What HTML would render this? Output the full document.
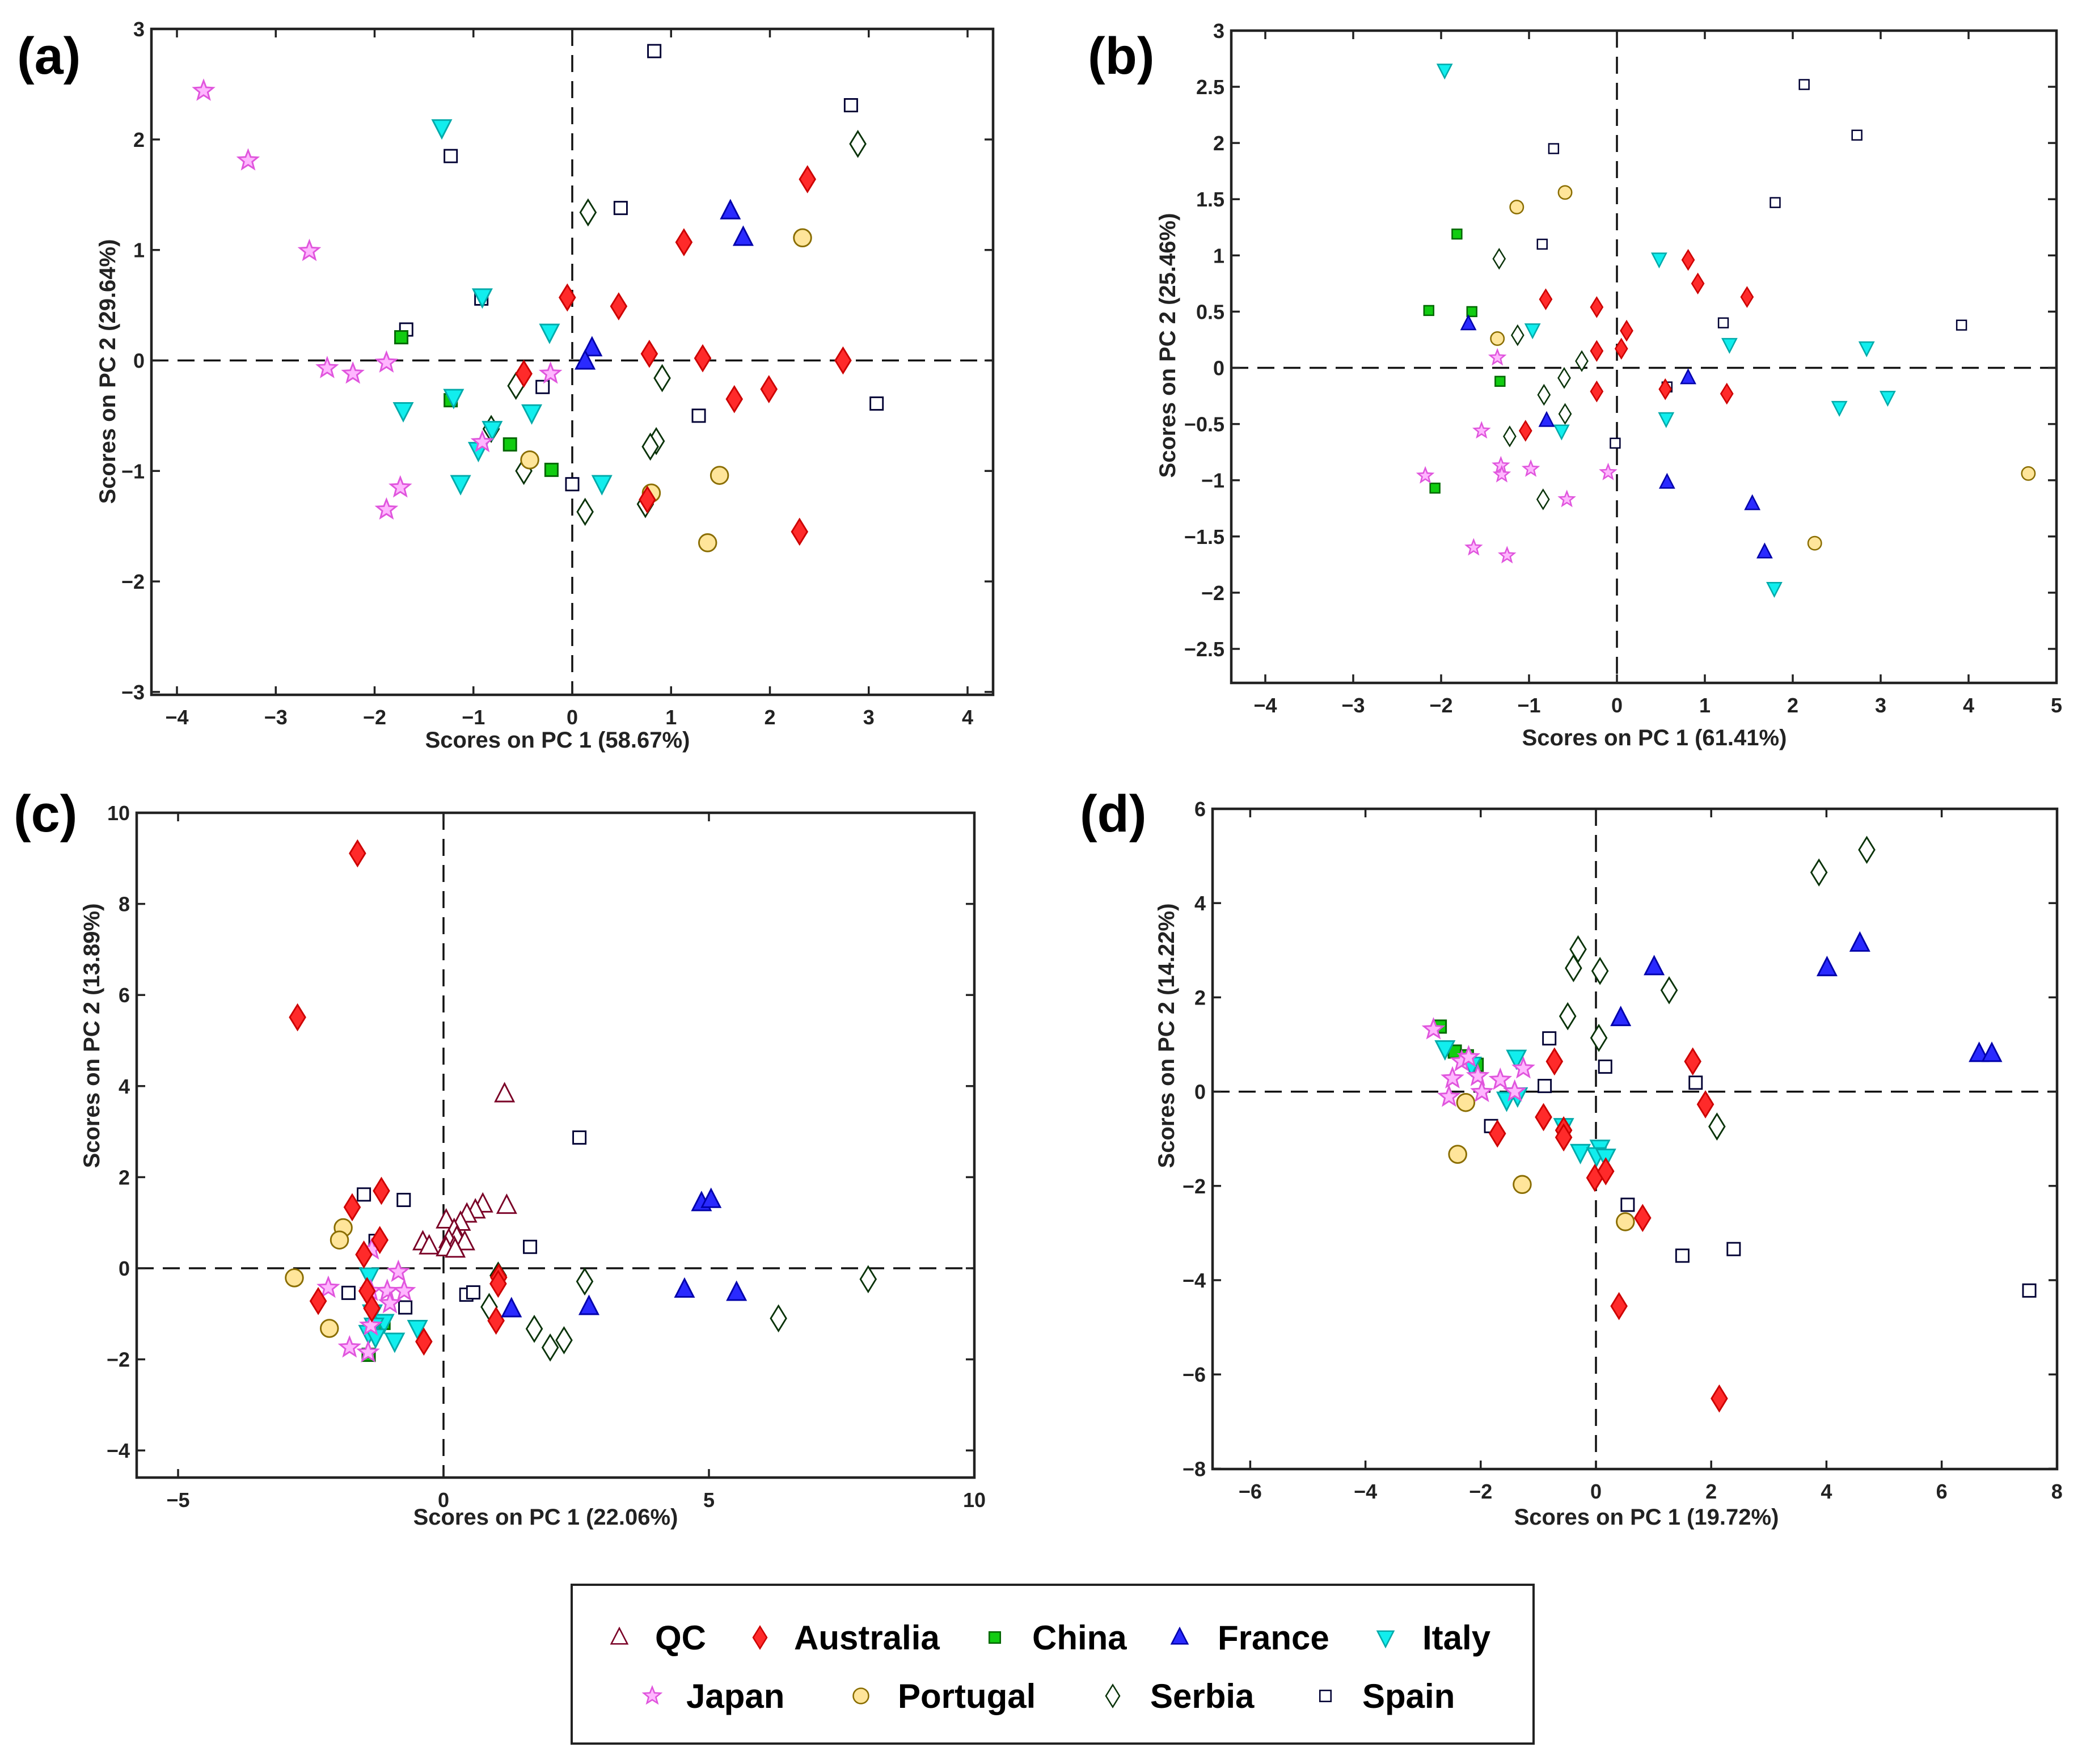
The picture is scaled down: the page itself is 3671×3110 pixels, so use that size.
<!DOCTYPE html>
<html><head><meta charset="utf-8">
<style>
html,body{margin:0;padding:0;background:#fff;}
svg{display:block;font-family:"Liberation Sans",Arial,sans-serif;}
.tk{font-size:36px;font-weight:bold;fill:#222;}
.tt{font-size:40px;font-weight:bold;fill:#222;}
.pl{font-size:92px;font-weight:bold;fill:#000;}
.lg{font-size:60px;font-weight:bold;fill:#000;}
</style></head>
<body>
<svg id="fig" xmlns="http://www.w3.org/2000/svg" width="3671" height="3110" viewBox="0 0 3671 3110">
<rect width="3671" height="3110" fill="#fff"/>
<g id="panels"></g>
<g id="legend">
  <rect x="1008" y="2794" width="1696" height="280" fill="#fff" stroke="#222" stroke-width="4"/>
</g>
</svg>
<script>
// ---------- data (PC1, PC2 scores) ----------
const panelA_Japan=[[-3.73,2.44],[-3.28,1.81],[-2.66,0.99],[-2.48,-0.07],[-2.22,-0.12],[-1.88,-0.02],[-0.22,-0.12],[-0.91,-0.74],[-1.74,-1.15],[-1.88,-1.35]];
const panelA_Italy=[[-1.32,2.11],[-0.91,0.58],[-0.23,0.26],[-1.20,-0.33],[-1.71,-0.45],[-0.41,-0.47],[-0.95,-0.81],[-0.81,-0.62],[-1.13,-1.11],[0.30,-1.11]];
const panelA_Spain=[[0.83,2.80],[2.82,2.31],[-1.23,1.85],[0.49,1.38],[-0.92,0.56],[-1.68,0.28],[-0.30,-0.24],[1.28,-0.50],[3.08,-0.39],[0.00,-1.12]];
const panelA_China=[[-1.73,0.21],[-1.23,-0.36],[-0.63,-0.76],[-0.21,-0.99]];
const panelA_Australia=[[2.38,1.64],[1.13,1.07],[-0.05,0.57],[0.47,0.49],[0.78,0.06],[1.32,0.02],[2.74,0.00],[-0.49,-0.12],[1.64,-0.35],[1.99,-0.26],[2.30,-1.55],[0.76,-1.26]];
const panelA_France=[[1.60,1.35],[1.73,1.11],[0.20,0.11],[0.13,-0.01]];
const panelA_Portugal=[[2.33,1.11],[-0.43,-0.90],[1.49,-1.04],[0.80,-1.20],[1.37,-1.65]];
const panelA_Serbia=[[2.89,1.96],[0.16,1.34],[0.91,-0.16],[-0.57,-0.23],[-0.82,-0.62],[0.85,-0.73],[0.79,-0.78],[-0.49,-1.00],[0.74,-1.30],[0.13,-1.37]];
const panelA_QC=[];

const panelB_Italy=[[-1.96,2.65],[0.48,0.97],[-0.96,0.34],[1.28,0.21],[2.84,0.18],[3.08,-0.26],[2.53,-0.35],[0.56,-0.45],[-0.63,-0.56],[1.79,-1.96]];
const panelB_Spain=[[2.13,2.52],[2.73,2.07],[-0.72,1.95],[1.80,1.47],[-0.85,1.10],[1.21,0.40],[3.92,0.38],[0.57,-0.17],[-0.02,-0.67]];
const panelB_Portugal=[[-0.59,1.56],[-1.14,1.43],[-1.36,0.26],[4.68,-0.94],[2.25,-1.56]];
const panelB_China=[[-1.82,1.19],[-2.14,0.51],[-1.65,0.50],[-1.33,-0.12],[-2.07,-1.07]];
const panelB_Serbia=[[-1.34,0.97],[-1.13,0.29],[-0.40,0.06],[-0.60,-0.09],[-0.83,-0.24],[-0.59,-0.41],[-1.22,-0.61],[-0.84,-1.17]];
const panelB_Australia=[[0.81,0.96],[0.92,0.75],[1.48,0.63],[-0.81,0.61],[-0.23,0.54],[0.11,0.33],[-0.23,0.15],[0.05,0.17],[-0.23,-0.21],[0.55,-0.19],[1.25,-0.23],[-1.04,-0.56]];
const panelB_France=[[-1.69,0.39],[0.81,-0.09],[-0.80,-0.47],[0.57,-1.02],[1.54,-1.21],[1.68,-1.64]];
const panelB_Japan=[[-1.36,0.09],[-1.54,-0.56],[-2.18,-0.96],[-1.32,-0.87],[-1.31,-0.95],[-0.98,-0.90],[-0.10,-0.93],[-0.57,-1.17],[-1.63,-1.60],[-1.25,-1.67]];
const panelB_QC=[];

const panelC_Australia=[[-1.62,9.11],[-2.75,5.51],[-1.17,1.70],[-1.72,1.34],[-1.20,0.62],[-1.50,0.30],[-2.36,-0.72],[-1.44,-0.50],[-1.35,-0.88],[1.04,-0.20],[1.03,-0.34],[0.99,-1.15],[-0.37,-1.61]];
const panelC_QC=[[1.15,3.82],[1.19,1.37],[0.74,1.40],[0.60,1.27],[0.44,1.18],[0.32,1.00],[0.05,1.05],[0.20,0.84],[0.25,0.68],[0.10,0.62],[0.40,0.57],[-0.39,0.57],[-0.27,0.48],[0.20,0.46],[0.05,0.44],[0.22,0.41]];
const panelC_Spain=[[-1.50,1.62],[-0.75,1.50],[2.56,2.87],[-1.28,0.60],[1.63,0.47],[-1.79,-0.54],[0.43,-0.58],[0.56,-0.53],[-0.72,-0.86]];
const panelC_Portugal=[[-1.89,0.89],[-1.96,0.62],[-2.81,-0.21],[-2.15,-1.32]];
const panelC_France=[[4.86,1.43],[5.04,1.50],[4.54,-0.47],[5.52,-0.54],[2.74,-0.85],[1.28,-0.90]];
const panelC_Serbia=[[8.0,-0.24],[6.31,-1.10],[2.66,-0.29],[1.03,-0.16],[0.86,-0.85],[1.71,-1.33],[2.27,-1.58],[2.01,-1.74]];
const panelC_Italy=[[-1.40,-0.16],[-1.34,-0.97],[-1.12,-1.18],[-1.31,-1.26],[-1.41,-1.42],[-1.28,-1.50],[-0.92,-1.59],[-0.49,-1.31]];
const panelC_China=[[-1.13,-1.20],[-1.41,-1.90]];
const panelC_Japan=[[-2.17,-0.43],[-1.35,0.41],[-0.85,-0.08],[-1.37,-0.50],[-1.06,-0.50],[-0.74,-0.50],[-1.01,-0.77],[-1.37,-1.26],[-1.77,-1.74],[-1.42,-1.85]];

const panelD_Serbia=[[4.70,5.13],[3.87,4.65],[-0.31,3.02],[-0.39,2.62],[0.07,2.56],[1.27,2.15],[-0.49,1.60],[0.05,1.14],[2.10,-0.74]];
const panelD_France=[[4.58,3.14],[4.01,2.62],[1.01,2.64],[0.43,1.56],[6.65,0.80],[6.87,0.80]];
const panelD_Spain=[[-0.81,1.13],[0.16,0.53],[1.73,0.19],[-0.89,0.12],[-1.82,-0.73],[0.55,-2.40],[1.50,-3.48],[2.39,-3.34],[7.52,-4.22]];
const panelD_Australia=[[-0.72,0.64],[1.68,0.64],[1.90,-0.27],[-0.91,-0.54],[-0.56,-0.82],[-0.56,-0.97],[-1.71,-0.89],[-0.02,-1.83],[0.17,-1.69],[0.81,-2.68],[0.40,-4.55],[2.14,-6.51]];
const panelD_Portugal=[[-2.26,-0.23],[-2.40,-1.33],[-1.28,-1.97],[0.51,-2.76]];
const panelD_Italy=[[-2.62,0.92],[-2.16,0.57],[-1.38,0.72],[-1.55,-0.17],[-1.36,-0.08],[-0.56,-0.73],[-0.27,-1.28],[0.07,-1.19],[0.01,-1.35],[0.17,-1.38]];
const panelD_China=[[-2.71,1.38],[-2.45,0.85],[-2.24,0.75],[-2.07,0.57]];
const panelD_Japan=[[-2.82,1.32],[-2.49,0.28],[-2.55,-0.11],[-2.33,0.64],[-2.21,0.73],[-2.05,0.33],[-1.98,-0.01],[-1.66,0.25],[-1.41,0.00],[-1.26,0.49]];

const ticksA_x=[-4,-3,-2,-1,0,1,2,3,4], ticksA_y=[-3,-2,-1,0,1,2,3];
const ticksB_x=[-4,-3,-2,-1,0,1,2,3,4,5], ticksB_y=[-2.5,-2,-1.5,-1,-0.5,0,0.5,1,1.5,2,2.5,3];
const ticksC_x=[-5,0,5,10], ticksC_y=[-4,-2,0,2,4,6,8,10];
const ticksD_x=[-6,-4,-2,0,2,4,6,8], ticksD_y=[-8,-6,-4,-2,0,2,4,6];

const legendNames=["QC","Australia","China","France","Italy","Japan","Portugal","Serbia","Spain"];

// ---------- drawing ----------
const NS="http://www.w3.org/2000/svg";
function mk(tag,attrs,parent){const e=document.createElementNS(NS,tag);for(const k in attrs)e.setAttribute(k,attrs[k]);parent.appendChild(e);return e;}
const STY={
 QC:{shape:"tri",fill:"#fff",stroke:"#7a0026"},
 Australia:{shape:"dia",fill:"#ff2a2a",stroke:"#cc0000"},
 China:{shape:"sq",fill:"#11cc11",stroke:"#006600"},
 France:{shape:"tri",fill:"#2a2aff",stroke:"#0000aa"},
 Italy:{shape:"dtri",fill:"#11eeee",stroke:"#00aaaa"},
 Japan:{shape:"star",fill:"#ffb6ff",stroke:"#e055dd"},
 Portugal:{shape:"circ",fill:"#ffe59a",stroke:"#8a6d00"},
 Serbia:{shape:"dia",fill:"#fff",stroke:"#0a330a"},
 Spain:{shape:"sq",fill:"#fff",stroke:"#000033"}
};
function marker(g,country,cx,cy,s){
 const st=STY[country];let el;const sw=Math.max(2.5,s*0.17);
 if(st.shape==="dia"){el=mk("polygon",{points:`${cx},${cy-s*1.3} ${cx+s*0.8},${cy} ${cx},${cy+s*1.3} ${cx-s*0.8},${cy}`},g);}
 else if(st.shape==="tri"){el=mk("polygon",{points:`${cx},${cy-s*1.1} ${cx+s*0.95},${cy+s*0.75} ${cx-s*0.95},${cy+s*0.75}`},g);}
 else if(st.shape==="dtri"){el=mk("polygon",{points:`${cx},${cy+s*1.1} ${cx+s*0.95},${cy-s*0.75} ${cx-s*0.95},${cy-s*0.75}`},g);}
 else if(st.shape==="sq"){el=mk("rect",{x:cx-s*0.65,y:cy-s*0.65,width:s*1.3,height:s*1.3},g);}
 else if(st.shape==="circ"){el=mk("circle",{cx:cx,cy:cy,r:s*0.9},g);}
 else {let p=[];for(let i=0;i<10;i++){const r=i%2?s*0.45:s*1.05;const a=-Math.PI/2+i*Math.PI/5;p.push((cx+r*Math.cos(a)).toFixed(1)+","+(cy+r*Math.sin(a)).toFixed(1));}el=mk("polygon",{points:p.join(" ")},g);}
 el.setAttribute("fill",st.fill);el.setAttribute("stroke",st.stroke);el.setAttribute("stroke-width",sw);
 return el;
}
function fmt(v){return (v<0?"\u2212":"")+Math.abs(v);}
const panelsG=document.getElementById("panels");
const panels=[
 {id:"a",box:[267,51,1751,1225],x0:1009,xu:174.25,y0:635.5,yu:194.8,xt:ticksA_x,yt:ticksA_y,s:17,
  xl:"Scores on PC 1 (58.67%)",yl:"Scores on PC 2 (29.64%)",xlp:[983,1318],ylp:[203,655],lab:[30,130],
  data:{Serbia:panelA_Serbia,Spain:panelA_Spain,Portugal:panelA_Portugal,China:panelA_China,Italy:panelA_Italy,Japan:panelA_Japan,Australia:panelA_Australia,France:panelA_France,QC:panelA_QC}},
 {id:"b",box:[2171,54,3626,1204],x0:2851,xu:155,y0:648.5,yu:198.2,xt:ticksB_x,yt:ticksB_y,s:13,
  xl:"Scores on PC 1 (61.41%)",yl:"Scores on PC 2 (25.46%)",xlp:[2917,1314],ylp:[2072,609],lab:[1918,130],
  data:{Serbia:panelB_Serbia,Spain:panelB_Spain,Portugal:panelB_Portugal,China:panelB_China,Italy:panelB_Italy,Japan:panelB_Japan,Australia:panelB_Australia,France:panelB_France,QC:panelB_QC}},
 {id:"c",box:[241,1433,1718,2605],x0:782,xu:93.6,y0:2236,yu:80.3,xt:ticksC_x,yt:ticksC_y,s:17,
  xl:"Scores on PC 1 (22.06%)",yl:"Scores on PC 2 (13.89%)",xlp:[962,2688],ylp:[175,1826],lab:[24,1466],
  data:{Serbia:panelC_Serbia,Spain:panelC_Spain,Portugal:panelC_Portugal,China:panelC_China,Italy:panelC_Italy,Japan:panelC_Japan,Australia:panelC_Australia,France:panelC_France,QC:panelC_QC}},
 {id:"d",box:[2138,1426,3627,2590],x0:2814,xu:101.6,y0:1924.6,yu:83.1,xt:ticksD_x,yt:ticksD_y,s:17,
  xl:"Scores on PC 1 (19.72%)",yl:"Scores on PC 2 (14.22%)",xlp:[2903,2688],ylp:[2070,1826],lab:[1904,1466],
  data:{Serbia:panelD_Serbia,Spain:panelD_Spain,Portugal:panelD_Portugal,China:panelD_China,Italy:panelD_Italy,Japan:panelD_Japan,Australia:panelD_Australia,France:panelD_France}}
];
panels.forEach(P=>{
 const sx=v=>P.x0+v*P.xu, sy=v=>P.y0-v*P.yu;
 const [L,T,R,B]=P.box;
 const g=mk("g",{},panelsG);
 
 
 const lab=mk("text",{x:P.lab[0],y:P.lab[1],class:"pl"},g);lab.textContent="("+P.id+")";
 
 
 // zero lines
 const zh=mk("line",{x1:L,x2:R,y1:sy(0),y2:sy(0),stroke:"#111","stroke-width":3.5,"stroke-dasharray":"30,16"},g);
 
 
 const zv=mk("line",{x1:sx(0),x2:sx(0),y1:T,y2:B,stroke:"#111","stroke-width":3.5,"stroke-dasharray":"30,16"},g);
 
 
 // ticks
 P.xt.forEach(v=>{const x=sx(v);
  mk("line",{x1:x,x2:x,y1:B,y2:B-15,stroke:"#222","stroke-width":3.5},g);
  mk("line",{x1:x,x2:x,y1:T,y2:T+15,stroke:"#222","stroke-width":3.5},g);
  const t=mk("text",{x:x,y:B+52,"text-anchor":"middle",class:"tk"},g);t.textContent=fmt(v);
  
  
 });
 P.yt.forEach(v=>{const y=sy(v);
  mk("line",{x1:L,x2:L+15,y1:y,y2:y,stroke:"#222","stroke-width":3.5},g);
  mk("line",{x1:R,x2:R-15,y1:y,y2:y,stroke:"#222","stroke-width":3.5},g);
  const t=mk("text",{x:L-12,y:y+13,"text-anchor":"end",class:"tk"},g);t.textContent=fmt(v);
  
  
 });
 const box=mk("rect",{x:L,y:T,width:R-L,height:B-T,fill:"none",stroke:"#222","stroke-width":4.5},g);
 
 
 const xt=mk("text",{x:P.xlp[0],y:P.xlp[1],"text-anchor":"middle",class:"tt"},g);xt.textContent=P.xl;
 
 
 const yt=mk("text",{x:P.ylp[0],y:P.ylp[1],"text-anchor":"middle",class:"tt",transform:`rotate(-90 ${P.ylp[0]} ${P.ylp[1]})`},g);yt.textContent=P.yl;
 
 
 Object.keys(P.data).forEach(c=>{
  P.data[c].forEach(d=>{
   const m=marker(g,c,sx(d[0]),sy(d[1]),P.s);
   
   
  });
 });
});
// legend
const lgG=document.getElementById("legend");
const lgPos=[[1092,2887,1155],[1340,2887,1400],[1754,2887,1820],[2080,2887,2147],[2443,2887,2508],
             [1150,2990,1210],[1518,2990,1583],[1962,2990,2028],[2337,2990,2402]];
legendNames.forEach((n,i)=>{
 const p=lgPos[i];
 const m=marker(lgG,n,p[0],p[1],15);
 
 
 const t=mk("text",{x:p[2],y:p[1]+21,class:"lg"},lgG);t.textContent=n;
 
 
});
</script>
</body></html>
